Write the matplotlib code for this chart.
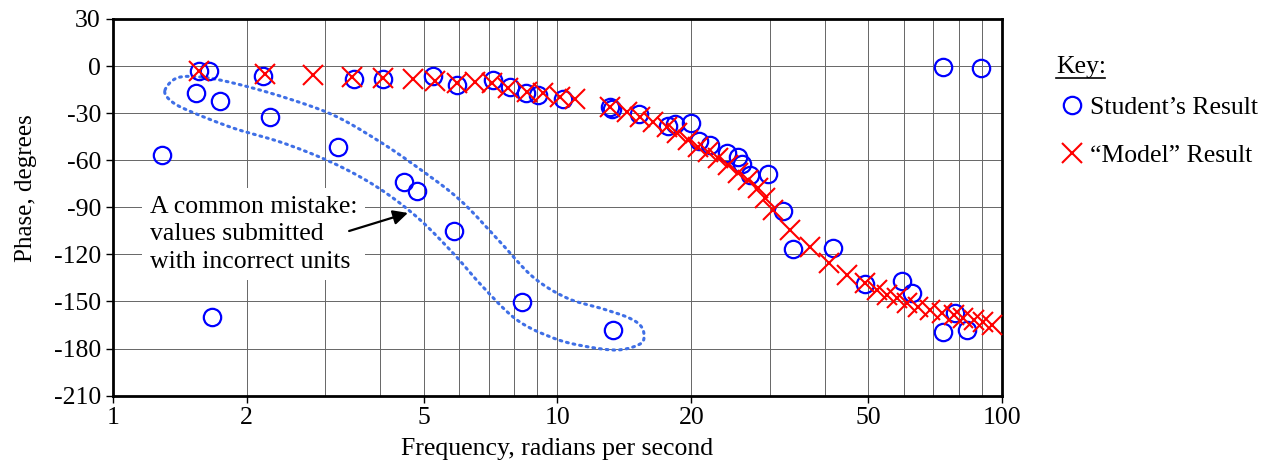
import numpy as np
import matplotlib
matplotlib.use("Agg")
import matplotlib.pyplot as plt
from matplotlib.lines import Line2D

plt.rcParams['font.family'] = ['Liberation Serif', 'DejaVu Serif']
plt.rcParams['axes.unicode_minus'] = False

# --- student's results (rad/s, degrees) ---
student_freq = [1.29, 1.54, 1.566, 1.65, 1.67, 1.74, 2.18, 2.26, 3.21, 3.48,
                4.06, 4.52, 4.84, 5.26, 5.85, 5.94, 7.15, 7.82, 8.31, 8.50,
                9.03, 10.3, 13.12, 13.26, 13.35, 15.27, 17.75, 18.37, 19.93, 20.80,
                22.02, 24.01, 25.50, 25.95, 27.15, 29.8, 32.1, 33.9, 41.7, 49.2,
                59.4, 62.6, 73.4, 73.5, 78.3, 83.2, 89.6]
student_phase = [-56.7, -17.0, -3.2, -3.2, -160.1, -22.1, -6.4, -32.7, -51.4, -8.3,
                 -8.3, -73.7, -79.4, -6.4, -105.1, -12.1, -8.9, -13.2, -150.1, -17.4,
                 -18.5, -20.8, -26.3, -27.1, -168.2, -30.8, -38.2, -37.1, -36.5, -47.6,
                 -50.3, -55.2, -57.8, -62.4, -69.5, -68.8, -92.4, -116.6, -116.1, -139.0,
                 -136.9, -144.4, -169.2, -0.4, -157.5, -168.2, -1.5]

# --- "model" results ---
model_freq = [1.567, 2.20, 2.82, 3.46, 4.06, 4.73, 5.30, 5.95, 6.52, 7.11,
              7.75, 8.53, 9.29, 10.13, 10.95, 13.12, 14.31, 15.33, 16.42, 17.60,
              18.53, 19.68, 20.73, 21.83, 22.99, 24.21, 25.50, 26.85, 28.28, 29.3,
              30.5, 33.4, 37.0, 40.7, 44.7, 49.2, 52.3, 55.0, 57.9, 61.0,
              64.8, 68.9, 73.1, 77.7, 81.8, 86.2, 90.7, 94.8]
model_phase = [-3.0, -5.1, -5.7, -7.2, -7.8, -8.5, -9.4, -11.0, -10.0, -11.0,
               -14.2, -16.4, -17.4, -19.6, -21.2, -25.9, -29.1, -32.3, -35.5, -39.0,
               -42.9, -47.1, -51.4, -54.6, -58.8, -63.1, -68.3, -72.6, -77.9, -84.0,
               -91.7, -104.5, -115.5, -125.7, -133.1, -138.4, -142.7, -145.9, -148.0, -151.2,
               -153.3, -155.4, -157.5, -158.6, -160.7, -161.8, -162.9, -165.0]

# --- outline drawn round the "wrong units" points ---
loop_freq = [1.311, 1.395, 1.572, 1.865, 2.415, 3.13, 3.93, 4.83, 6.04, 7.43,
             8.81, 10.5, 12.46, 14.33, 15.33, 15.65, 15.33, 13.61, 11.41, 9.77,
             8.11, 6.80, 5.82, 4.83, 3.93, 3.13, 2.415, 1.865, 1.469, 1.345]
loop_phase = [-15.3, -7.6, -7.0, -10.8, -19.7, -31.2, -47.1, -64.3, -85.4, -112.1,
              -134.4, -147.8, -154.1, -159.9, -165.0, -171.3, -177.1, -180.9, -178.3, -173.2,
              -161.8, -140.8, -119.1, -96.2, -77.1, -61.8, -49.0, -39.5, -28.0, -21.7]

yticks = list(range(30, -211, -30))
xticks = [1, 2, 5, 10, 20, 50, 100]


def closed_spline(px, py, n=20):
    # catmull-rom through the points, closed
    p = np.column_stack([px, py])
    k = len(p)
    out = []
    for i in range(k):
        p0, p1, p2, p3 = p[i - 1], p[i], p[(i + 1) % k], p[(i + 2) % k]
        t = np.linspace(0, 1, n, endpoint=False)[:, None]
        out.append(0.5 * ((2 * p1) + (-p0 + p2) * t + (2 * p0 - 5 * p1 + 4 * p2 - p3) * t ** 2
                          + (-p0 + 3 * p1 - 3 * p2 + p3) * t ** 3))
    out = np.vstack(out + [out[0][:1]])
    return out[:, 0], out[:, 1]


fig = plt.figure(figsize=(12.75, 4.66), dpi=100)
ax = fig.add_axes([0.0884, 0.1509, 0.6977, 0.8085])

ax.set_xscale('log')
ax.set_xlim(1, 100)
ax.set_ylim(-210, 30)
ax.set_yticks(yticks)
ax.set_xticks(xticks)
ax.set_xticklabels([str(v) for v in xticks])
ax.tick_params(axis='both', labelsize=18.5, direction='out', length=5, width=1)
ax.tick_params(axis='x', which='minor', length=0)
ax.grid(True, which='both', color='0.4', lw=0.7)
ax.set_axisbelow(True)
for s in ax.spines.values():
    s.set_linewidth(2)

ax.set_xlabel('Frequency, radians per second', fontsize=18.5, labelpad=6)
ax.set_ylabel('Phase, degrees', fontsize=18)
ax.yaxis.set_label_coords(-0.085, 0.55)

# dotted outline
lx, ly = closed_spline(np.log10(loop_freq), loop_phase)
ax.plot(10 ** lx, ly, color='#3f6fe6', lw=2.2, ls=(0, (0.6, 1.6)),
        dash_capstyle='round', zorder=2)

ax.plot(student_freq, student_phase, 'o', ms=12.5, mfc='none', mec='#0000ff',
        mew=1.6, label='Student\u2019s Result', zorder=3)
ax.plot(model_freq, model_phase, 'x', ms=14, mec='#ff0000', mew=1.5,
        label='\u201cModel\u201d Result', zorder=4)

ax.text(1.213, -82.5, 'A common mistake:\nvalues submitted\nwith incorrect units',
        fontsize=18.5, ha='left', va='top', linespacing=1.33,
        bbox=dict(boxstyle='square,pad=0.3', fc='white', ec='none'), zorder=5)
ax.annotate('', xy=(4.61, -93.6), xytext=(3.40, -105.1),
            arrowprops=dict(arrowstyle='-|>', color='black', lw=1.6,
                            mutation_scale=22, shrinkA=0, shrinkB=0), zorder=6)

# key
fig.text(0.8282, 0.856, 'Key:', fontsize=18.5, ha='left', va='center')
fig.add_artist(Line2D([0.8282, 0.8665], [0.8325, 0.8325], color='black', lw=1.2))
ax.legend(loc='upper left', bbox_to_anchor=(0.8327, 0.795), bbox_transform=fig.transFigure,
          frameon=False, fontsize=18.5, handlelength=0.8, handletextpad=0.3,
          borderpad=0, borderaxespad=0, labelspacing=0.98)

fig.savefig('out.png', dpi=100)
